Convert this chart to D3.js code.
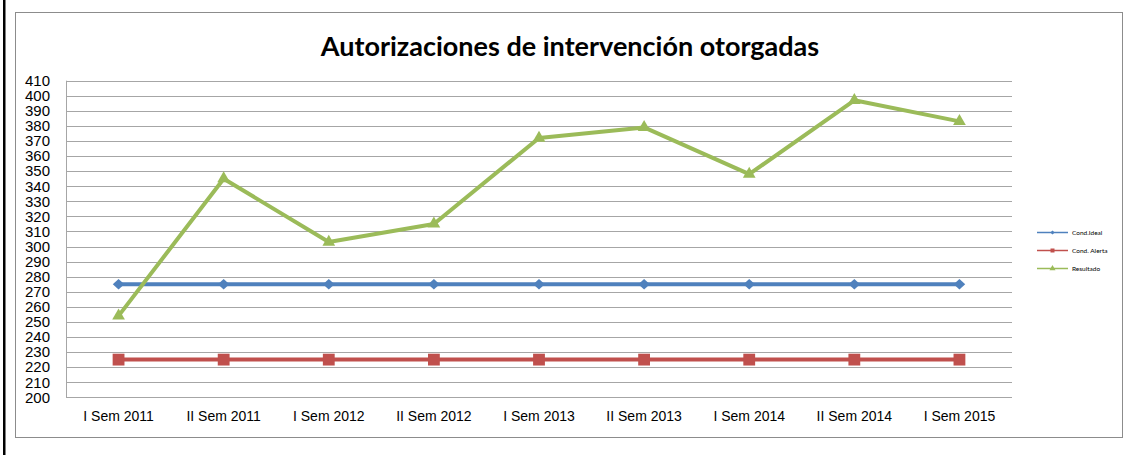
<!DOCTYPE html>
<html>
<head>
<meta charset="utf-8">
<script src="https://cdn.jsdelivr.net/npm/d3@7"></script>
<style>
  body { margin: 0; background: #fff; }
  svg { display: block; font-family: Lato, "Open Sans", sans-serif; }
</style>
</head>
<body>
<div id="chart"></div>
<script>
// data
const semesters = ["I Sem 2011", "II Sem 2011", "I Sem 2012", "II Sem 2012", "I Sem 2013",
                   "II Sem 2013", "I Sem 2014", "II Sem 2014", "I Sem 2015"];
const condIdeal = [275, 275, 275, 275, 275, 275, 275, 275, 275];
const condAlerta = [225, 225, 225, 225, 225, 225, 225, 225, 225];
const resultado = [254, 345, 303, 315, 372, 379, 348, 397, 383];
const yTicks = d3.range(200, 411, 10);

const width = 1131, height = 455;
const margin = {top: 80.7, right: 1131 - 1012, bottom: 455 - 397.3, left: 66};

const svg = d3.select("#chart").append("svg")
    .attr("width", width)
    .attr("height", height);

// outer black edge on the left and the chart frame
svg.append("rect").attr("x", 3).attr("y", 0).attr("width", 2.5).attr("height", height).attr("fill", "#000");
svg.append("rect")
    .attr("x", 15.5).attr("y", 12.5)
    .attr("width", 1107).attr("height", 425)
    .attr("fill", "none").attr("stroke", "#8c8c8c").attr("stroke-width", 1);

svg.append("text")
    .attr("x", 570).attr("y", 56)
    .attr("text-anchor", "middle")
    .style("font-size", "27px").style("font-weight", "bold")
    .text("Autorizaciones de intervención otorgadas");

const x = d3.scaleBand().domain(semesters).range([margin.left, width - margin.right]);
const y = d3.scaleLinear().domain([200, 410]).range([height - margin.bottom, margin.top]);

// gridlines
svg.append("g").selectAll("line")
    .data(yTicks)
    .join("line")
    .attr("x1", margin.left).attr("x2", width - margin.right)
    .attr("y1", d => Math.round(y(d)) + 0.5).attr("y2", d => Math.round(y(d)) + 0.5)
    .attr("stroke", "#a6a6a6").attr("stroke-width", 1);

svg.append("line")
    .attr("x1", margin.left + 0.5).attr("x2", margin.left + 0.5)
    .attr("y1", y(410)).attr("y2", y(200))
    .attr("stroke", "#a6a6a6");

const yAxis = svg.append("g")
    .attr("transform", `translate(${margin.left},0)`)
    .call(d3.axisLeft(y).tickValues(yTicks).tickSize(0).tickPadding(16));
yAxis.select(".domain").remove();
yAxis.selectAll("text").style("font-size", "15px").attr("fill", "#000");

const xAxis = svg.append("g")
    .attr("transform", `translate(0,${y(200)})`)
    .call(d3.axisBottom(x).tickSize(0).tickPadding(14));
xAxis.select(".domain").remove();
xAxis.selectAll("text").style("font-size", "14px").attr("fill", "#000");

const diamond = {
  draw(ctx, size) {
    const r = Math.sqrt(size) / 2;
    ctx.moveTo(0, -r); ctx.lineTo(r * 1.1, 0); ctx.lineTo(0, r); ctx.lineTo(-r * 1.1, 0); ctx.closePath();
  }
};

const series = [
  {name: "Cond.Ideal", values: condIdeal, color: "#4f81bd", symbol: diamond, size: 110},
  {name: "Cond. Alerta", values: condAlerta, color: "#c0504d", symbol: d3.symbolSquare, size: 140},
  {name: "Resultado", values: resultado, color: "#9bbb59", symbol: d3.symbolTriangle, size: 70}
];

const line = d3.line()
    .x((d, i) => x(semesters[i]) + x.bandwidth() / 2)
    .y(d => y(d));

series.forEach(s => {
  const g = svg.append("g");
  g.append("path")
      .attr("d", line(s.values))
      .attr("fill", "none")
      .attr("stroke", s.color)
      .attr("stroke-width", 4)
      .attr("stroke-linejoin", "round");
  g.selectAll("path.mark")
      .data(s.values)
      .join("path")
      .attr("class", "mark")
      .attr("transform", (d, i) => `translate(${x(semesters[i]) + x.bandwidth() / 2},${y(d)})`)
      .attr("d", d3.symbol(s.symbol, s.size))
      .attr("fill", s.color);
});

// legend
const legend = svg.append("g").selectAll("g")
    .data(series)
    .join("g")
    .attr("transform", (d, i) => `translate(1037,${232.5 + i * 18})`);
legend.append("line")
    .attr("x1", 0).attr("x2", 31)
    .attr("stroke", d => d.color).attr("stroke-width", 1.5);
legend.append("path")
    .attr("transform", "translate(15.5,0)")
    .attr("d", d => d3.symbol(d.symbol, 16)())
    .attr("fill", d => d.color);
legend.append("text")
    .attr("x", 35).attr("dy", "0.35em")
    .style("font-size", "6.5px")
    .text(d => d.name);
</script>
</body>
</html>
